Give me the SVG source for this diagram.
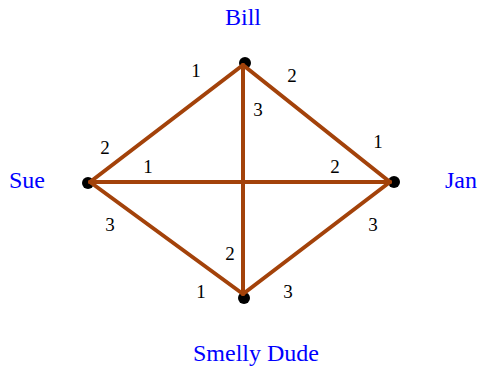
<svg xmlns="http://www.w3.org/2000/svg" width="481" height="370" viewBox="0 0 481 370">
<style>
.edge{stroke:#a3420a;stroke-width:4;stroke-linecap:round;fill:none}
.dot{fill:#000}
text{font-family:'Liberation Serif','Times New Roman',serif}
.name{font-size:24px;fill:#0000ff;text-anchor:middle}
.w{font-size:19px;fill:#000;text-anchor:middle}
</style>
<rect width="481" height="370" fill="#fff"/>
<g id="node-bill"><circle class="dot" cx="245" cy="63" r="6"/><text class="name" x="243" y="25">Bill</text></g>
<g id="node-sue"><circle class="dot" cx="88" cy="183" r="6"/><text class="name" x="27" y="188">Sue</text></g>
<g id="node-jan"><circle class="dot" cx="394" cy="182" r="6"/><text class="name" x="461" y="188">Jan</text></g>
<g id="node-smelly"><circle class="dot" cx="244" cy="298" r="6"/><text class="name" x="256" y="361">Smelly Dude</text></g>
<g id="connectors">
<line class="edge" x1="243" y1="65" x2="90" y2="182"/>
<line class="edge" x1="243" y1="65" x2="390" y2="182"/>
<line class="edge" x1="243" y1="65" x2="243" y2="294"/>
<line class="edge" x1="90" y1="182" x2="390" y2="182"/>
<line class="edge" x1="90" y1="182" x2="243" y2="294"/>
<line class="edge" x1="390" y1="182" x2="243" y2="294"/>
</g>
<g id="weights">
<text class="w" x="196" y="77">1</text>
<text class="w" x="292" y="82">2</text>
<text class="w" x="258" y="116">3</text>
<text class="w" x="105" y="154">2</text>
<text class="w" x="148" y="173">1</text>
<text class="w" x="110" y="231">3</text>
<text class="w" x="378" y="148">1</text>
<text class="w" x="335" y="173">2</text>
<text class="w" x="373" y="231">3</text>
<text class="w" x="230" y="260">2</text>
<text class="w" x="201" y="298">1</text>
<text class="w" x="288" y="298">3</text>
</g>
</svg>
